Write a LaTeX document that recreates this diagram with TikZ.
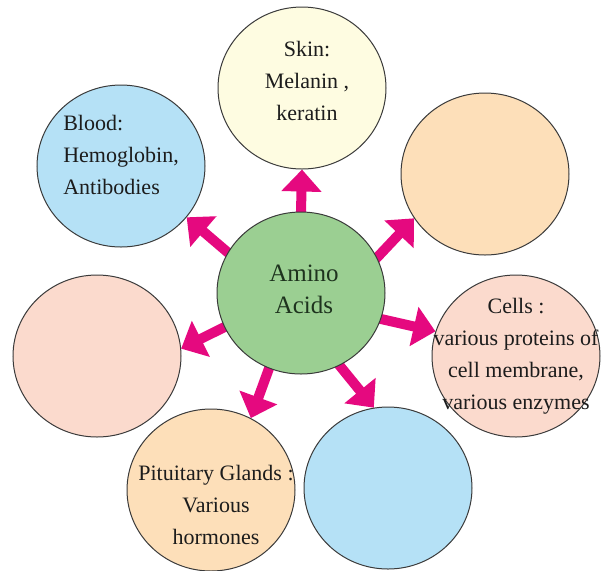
\documentclass[tikz,border=0pt]{standalone}
\usepackage{fontspec}
\setmainfont{Liberation Serif}
\usetikzlibrary{arrows.meta,shapes.geometric,backgrounds}
\definecolor{Ink}{HTML}{1C1C1C}
\definecolor{LeafInk}{HTML}{1E331E}
\definecolor{Edge}{HTML}{3A3A3A}
\definecolor{Leaf}{HTML}{9BCF92}
\definecolor{Cream}{HTML}{FEFCE1}
\definecolor{Peach}{HTML}{FDDFB9}
\definecolor{Sky}{HTML}{B5E1F6}
\definecolor{Blush}{HTML}{FBDACD}
\definecolor{Magenta}{HTML}{E5097F}
\tikzset{
  disc/.style={ellipse,draw=Edge,line width=.5pt,minimum width=84pt,minimum height=81pt,inner sep=0pt},
  core/.style={disc,fill=Leaf},
  txt/.style={align=center,text=Ink,font=\fontsize{11}{16}\selectfont,inner sep=0pt},
  coretxt/.style={txt,text=LeafInk,font=\fontsize{12.5}{16}\selectfont},
  flow/.style={-{Triangle[length=11pt,width=19.5pt]},draw=Magenta,line width=5pt,shorten <=-3pt}
}
\begin{document}
\begin{tikzpicture}[x=.5pt,y=-.5pt]
  \useasboundingbox (0,0) rectangle (601,570);
  % centre and the seven discs round it
  \node[core] (acids) at (301,293) {};
  \node[disc,fill=Cream] (skin) at (302,88) {};
  \node[disc,fill=Peach] (upright) at (485,174) {};
  \node[disc,fill=Sky] (blood) at (121,166) {};
  \node[disc,fill=Blush] (left) at (97,356) {};
  \node[disc,fill=Blush] (cells) at (516,356) {};
  \node[disc,fill=Peach] (pituitary) at (211,490) {};
  \node[disc,fill=Sky] (lowright) at (388,488) {};
  % texts
  \node[coretxt] (acidstext) at ([xshift=1.5pt,yshift=2pt]acids.center) {Amino\\Acids};
  \node[txt] (skintext) at ([xshift=2.5pt,yshift=3.5pt]skin.center) {Skin:\\Melanin ,\\keratin};
  \node[txt,align=left] (bloodtext) at ([yshift=5.5pt]blood.center) {Blood:\\Hemoglobin,\\Antibodies};
  \node[txt] (cellstext) at (cells.center) {Cells :\\various proteins of\\cell membrane,\\various enzymes};
  \node[txt] (pituitarytext) at ([xshift=2.5pt,yshift=-7.5pt]pituitary.center) {Pituitary Glands :\\Various\\hormones};
  % arrows
  \begin{scope}[on background layer]
    \draw[flow] (acids.90) -- (skin.270);
    \draw[flow] (acids.25) -- (upright.212);
    \draw[flow] (acids.151) -- (blood.322);
    \draw[flow] (acids.204) -- (left.5);
    \draw[flow] (acids.247) -- (pituitary.61);
    \draw[flow] (acids.298) -- (lowright.100);
    \draw[flow] (acids.342) -- (cells.163);
  \end{scope}
\end{tikzpicture}
\end{document}
